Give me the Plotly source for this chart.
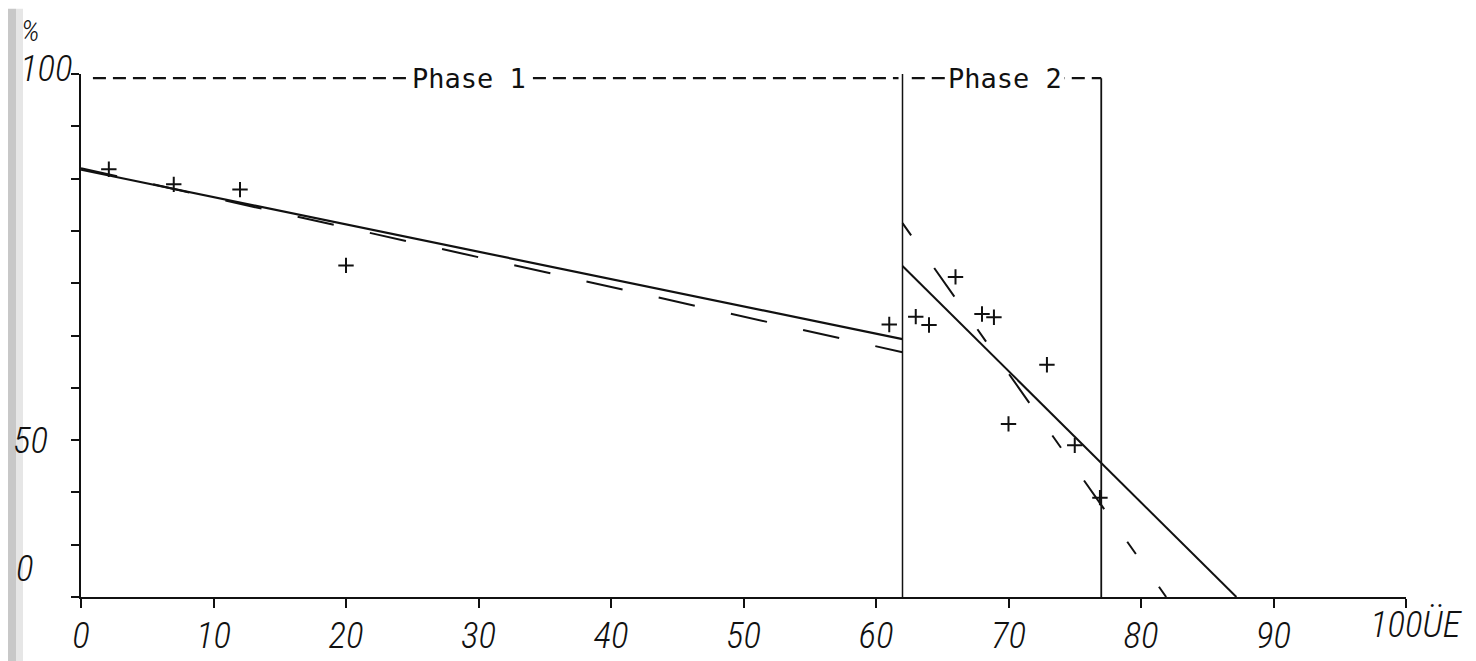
import plotly.graph_objects as go

# ---------------- data ----------------
pts_x = [2.1, 7.0, 12.0, 20.0, 61.0, 63.0, 64.0, 66.0, 68.0, 68.9, 70.0, 72.9, 75.0, 76.9]
pts_y = [81.8, 78.9, 77.9, 63.4, 52.1, 53.6, 52.0, 61.2, 54.1, 53.5, 33.1, 44.4, 29.0, 19.0]

p1_solid_x = [0, 62.0]
p1_solid_y = [81.7, 49.3]
p1_dash_x = [0, 62.0]
p1_dash_y = [82.0, 46.8]

p2_solid_x = [62.0, 87.2]
p2_solid_y = [63.3, 0]
p2_dash_x = [62.0, 81.9]
p2_dash_y = [71.5, 0]

bound1_x = 62.0
bound2_x = 77.0
header_y = 99.2
phase_names = ["Phase 1", "Phase 2"]
phase_label_x = [29.3, 69.7]

x_tickvals = [0, 10, 20, 30, 40, 50, 60, 70, 80, 90, 100]
x_ticktext = ["0", "10", "20", "30", "40", "50", "60", "70", "80", "90", ""]
y_tickvals = [0, 10, 20, 30, 40, 50, 60, 70, 80, 90, 100]
y_labels = ["0", "50", "100"]

# ---------------- figure ----------------
W, H = 1476, 661
L, R, T, B = 73, 78, 66, 65
pw, ph = W - L - R, H - T - B

def px2paper_x(px):
    return (px - L) / pw

def py2paper_y(py):
    return (H - B - py) / ph

tick_font = dict(family="Roboto Condensed, DejaVu Sans Condensed, Liberation Sans Narrow, Roboto",
                 size=37, color="#111", style="italic", weight=300)
mono = dict(family="DejaVu Sans Mono, Liberation Mono", size=27, color="#111")

fig = go.Figure()

blk = "#111111"
# regression lines
fig.add_trace(go.Scatter(x=p1_solid_x, y=p1_solid_y, mode="lines",
                         line=dict(color=blk, width=2.2), showlegend=False))
fig.add_trace(go.Scatter(x=p1_dash_x, y=p1_dash_y, mode="lines",
                         line=dict(color=blk, width=2, dash="37px,37px"), showlegend=False))
fig.add_trace(go.Scatter(x=p2_solid_x, y=p2_solid_y, mode="lines",
                         line=dict(color=blk, width=2), showlegend=False))
fig.add_trace(go.Scatter(x=p2_dash_x, y=p2_dash_y, mode="lines",
                         line=dict(color=blk, width=2, dash="15px,40px,35px,40px"), showlegend=False))

# phase boundaries
fig.add_trace(go.Scatter(x=[bound1_x, bound1_x], y=[0, 100.6], mode="lines",
                         line=dict(color=blk, width=1.5), showlegend=False))
fig.add_trace(go.Scatter(x=[bound2_x, bound2_x], y=[0, header_y], mode="lines",
                         line=dict(color=blk, width=1.8), showlegend=False))

# header dashed lines
fig.add_trace(go.Scatter(x=[0.9, bound1_x - 0.3], y=[header_y, header_y], mode="lines",
                         line=dict(color=blk, width=2.2, dash="13px,7px"), showlegend=False))
fig.add_trace(go.Scatter(x=[bound1_x + 0.7, bound2_x], y=[header_y, header_y], mode="lines",
                         line=dict(color=blk, width=2.2, dash="13px,7px"), showlegend=False))

# data points
fig.add_trace(go.Scatter(x=pts_x, y=pts_y, mode="markers",
                         marker=dict(symbol="cross-thin", size=11, color=blk,
                                     line=dict(color=blk, width=2)),
                         showlegend=False))

# phase labels (white background hides the dashes beneath)
for name, xv in zip(phase_names, phase_label_x):
    fig.add_annotation(x=xv, y=header_y, text=name, showarrow=False,
                       font=mono, bgcolor="white", borderpad=2,
                       xanchor="center", yanchor="middle")

# y labels (hand-lettered positions)
y_label_px = {"100": (38, 60), "50": (22, 437), "0": (16, 567)}
for t in y_labels:
    pxx, pyy = y_label_px[t]
    fig.add_annotation(xref="paper", yref="paper", x=px2paper_x(pxx), y=py2paper_y(pyy),
                       text=t, showarrow=False, font=tick_font,
                       xanchor="center", yanchor="middle")
fig.add_annotation(xref="paper", yref="paper", x=px2paper_x(22), y=py2paper_y(22),
                   text="%", showarrow=False, font=dict(tick_font, size=30),
                   xanchor="center", yanchor="middle")
# last x label "100ÜE"
fig.add_annotation(xref="x", yref="paper", x=100, y=py2paper_y(624), xshift=-38,
                   text="100ÜE", showarrow=False, font=tick_font,
                   xanchor="left", yanchor="middle")

# scan shadow at the left edge
fig.add_shape(type="rect", xref="paper", yref="paper",
              x0=px2paper_x(0), x1=px2paper_x(8), y0=py2paper_y(H), y1=py2paper_y(0),
              fillcolor="#c8c8c8", line=dict(width=0), layer="below")
fig.add_shape(type="rect", xref="paper", yref="paper",
              x0=px2paper_x(8), x1=px2paper_x(15), y0=py2paper_y(H), y1=py2paper_y(0),
              fillcolor="#e6e6e6", line=dict(width=0), layer="below")

fig.update_xaxes(range=[0, 100], showgrid=False, zeroline=False,
                 showline=True, linecolor=blk, linewidth=2,
                 ticks="outside", ticklen=9, tickwidth=1.5, tickcolor=blk,
                 tickvals=x_tickvals, ticktext=x_ticktext, tickfont=tick_font,
                 ticklabelstandoff=-4)
fig.update_yaxes(range=[0, 100], showgrid=False, zeroline=False,
                 showline=True, linecolor=blk, linewidth=2,
                 ticks="outside", ticklen=8, tickwidth=1.5, tickcolor=blk,
                 tickvals=y_tickvals, showticklabels=False)

fig.update_layout(width=W, height=H, margin=dict(l=L, r=R, t=T, b=B),
                  plot_bgcolor="white", paper_bgcolor="white")

fig.write_html("out.html")
